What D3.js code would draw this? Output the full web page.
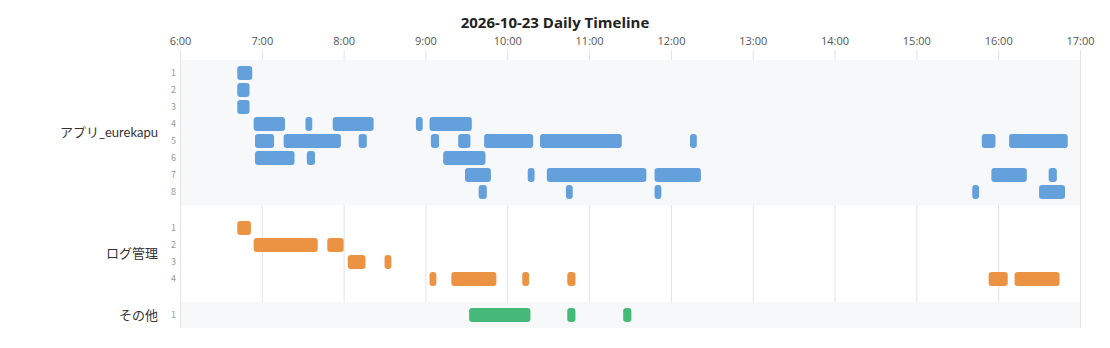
<!DOCTYPE html>
<html>
<head>
<meta charset="utf-8">
<script src="https://cdn.jsdelivr.net/npm/d3@7"></script>
<style>
  body { margin: 0; background: #fff; }
  text { font-family: "Noto Sans CJK JP", "Noto Sans", sans-serif; }
</style>
</head>
<body>
<div id="chart"></div>
<script>
// groups and their rows of [start, end] sessions
const groupNames = ['アプリ_eurekapu', 'ログ管理', 'その他']

const appRows = [
    [['06:42', '06:53']],
    [['06:42', '06:51']],
    [['06:42', '06:51']],
    [['06:54', '07:17'], ['07:32', '07:37'], ['07:52', '08:22'], ['08:53', '08:58'], ['09:03', '09:34']],
    [['06:55', '07:09'], ['07:16', '07:58'], ['08:11', '08:17'], ['09:04', '09:10'], ['09:24', '09:33'],
     ['09:43', '10:19'], ['10:24', '11:24'], ['12:14', '12:19'], ['15:48', '15:58'], ['16:08', '16:51']],
    [['06:55', '07:24'], ['07:33', '07:39'], ['09:13', '09:44']],
    [['09:29', '09:48'], ['10:15', '10:20'], ['10:29', '11:42'], ['11:48', '12:22'], ['15:55', '16:21'], ['16:37', '16:43']],
    [['09:39', '09:45'], ['10:43', '10:48'], ['11:48', '11:53'], ['15:41', '15:46'], ['16:30', '16:49']]
]

const logRows = [
    [['06:42', '06:52']],
    [['06:54', '07:41'], ['07:48', '08:00']],
    [['08:03', '08:16'], ['08:30', '08:35']],
    [['09:03', '09:08'], ['09:19', '09:52'], ['10:11', '10:16'], ['10:44', '10:50'], ['15:53', '16:07'], ['16:12', '16:45']]
]

const otherRows = [
    [['09:32', '10:17'], ['10:44', '10:50'], ['11:25', '11:31']]
]

const dayStart = '06:00'
const dayEnd = '17:00'

const groupRows = [appRows, logRows, otherRows]
const groupColors = ['#63a0dc', '#eb9243', '#45b97a']
const groupShaded = [true, false, true]
const groupExtra = [0, 20, 0]

let chartWidth = 1110
let chartHeight = 348
let rowStep = 17
let groupPad = 9
let plotTop = 60
let plotLeft = 180
let plotRight = 1080

let parse = d3.timeParse('%H:%M')

let x = d3.scaleTime()
    .domain([parse(dayStart), parse(dayEnd)])
    .range([plotLeft, plotRight])

let svg = d3.select('#chart')
    .append('svg')
    .attr('width', chartWidth)
    .attr('height', chartHeight)

// work out vertical bands for each group
let groups = []
let y0 = plotTop
groupNames.forEach((name, i) => {
    let h = groupRows[i].length * rowStep + groupPad + groupExtra[i]
    let inner = groupRows[i].length * rowStep
    let start = y0 + (h - inner) / 2
    let yRow = d3.scaleBand()
        .domain(d3.range(groupRows[i].length))
        .range([start, start + inner])
        .paddingInner(3 / 17)
        .paddingOuter(1.5 / 17)
    groups.push({ name, y0, y1: y0 + h, yRow, rows: groupRows[i], color: groupColors[i], shaded: groupShaded[i] })
    y0 += h
})
let plotBottom = y0

// grid lines
let hours = x.ticks(d3.timeHour.every(1))
svg.append('g')
    .selectAll('line')
    .data(hours)
    .enter()
    .append('line')
    .attr('x1', d => x(d) + 0.5)
    .attr('x2', d => x(d) + 0.5)
    .attr('y1', plotTop - 10)
    .attr('y2', plotBottom)
    .attr('stroke', '#e3e3e3')
    .attr('stroke-width', 1)

// shaded bands
svg.append('g')
    .selectAll('rect')
    .data(groups.filter(g => g.shaded))
    .enter()
    .append('rect')
    .attr('x', plotLeft + 1)
    .attr('width', plotRight - plotLeft - 1)
    .attr('y', d => d.y0)
    .attr('height', d => d.y1 - d.y0)
    .attr('fill', '#f7f8fa')

// top axis
let axis = svg.append('g')
    .attr('transform', `translate(0,${plotTop - 10})`)
    .call(d3.axisTop(x)
        .ticks(d3.timeHour.every(1))
        .tickFormat(d3.timeFormat('%-H:%M'))
        .tickSize(0)
        .tickPadding(5))
axis.select('.domain').remove()
axis.selectAll('text')
    .attr('font-size', 11)
    .attr('fill', '#555')
    .style('font-family', '"Open Sans", "Noto Sans", sans-serif')

// title
svg.append('text')
    .attr('x', chartWidth / 2)
    .attr('y', 28)
    .attr('text-anchor', 'middle')
    .attr('font-size', 15)
    .attr('font-weight', 'bold')
    .attr('fill', '#222')
    .style('font-family', '"Open Sans", "Noto Sans", sans-serif')
    .text('2026-10-23 Daily Timeline')

groups.forEach(g => {
    let gEl = svg.append('g')

    // group label
    gEl.append('text')
        .attr('x', 158)
        .attr('y', (g.y0 + g.y1) / 2)
        .attr('dy', '0.35em')
        .attr('text-anchor', 'end')
        .attr('font-size', 13)
        .attr('fill', '#333')
        .style('font-family', 'Lato, "Noto Sans CJK JP", sans-serif')
        .text(g.name)

    // row numbers
    gEl.selectAll('.rowlabel')
        .data(g.rows)
        .enter()
        .append('text')
        .attr('x', 176)
        .attr('y', (d, i) => g.yRow(i) + g.yRow.bandwidth() / 2)
        .attr('dy', '0.35em')
        .attr('text-anchor', 'end')
        .attr('font-size', 9)
        .attr('fill', '#999')
        .text((d, i) => i + 1)

    // bars
    g.rows.forEach((row, i) => {
        gEl.selectAll(null)
            .data(row)
            .enter()
            .append('rect')
            .attr('x', d => x(parse(d[0])))
            .attr('width', d => x(parse(d[1])) - x(parse(d[0])))
            .attr('y', g.yRow(i))
            .attr('height', g.yRow.bandwidth())
            .attr('rx', 3)
            .attr('fill', g.color)
    })
})
</script>
</body>
</html>
